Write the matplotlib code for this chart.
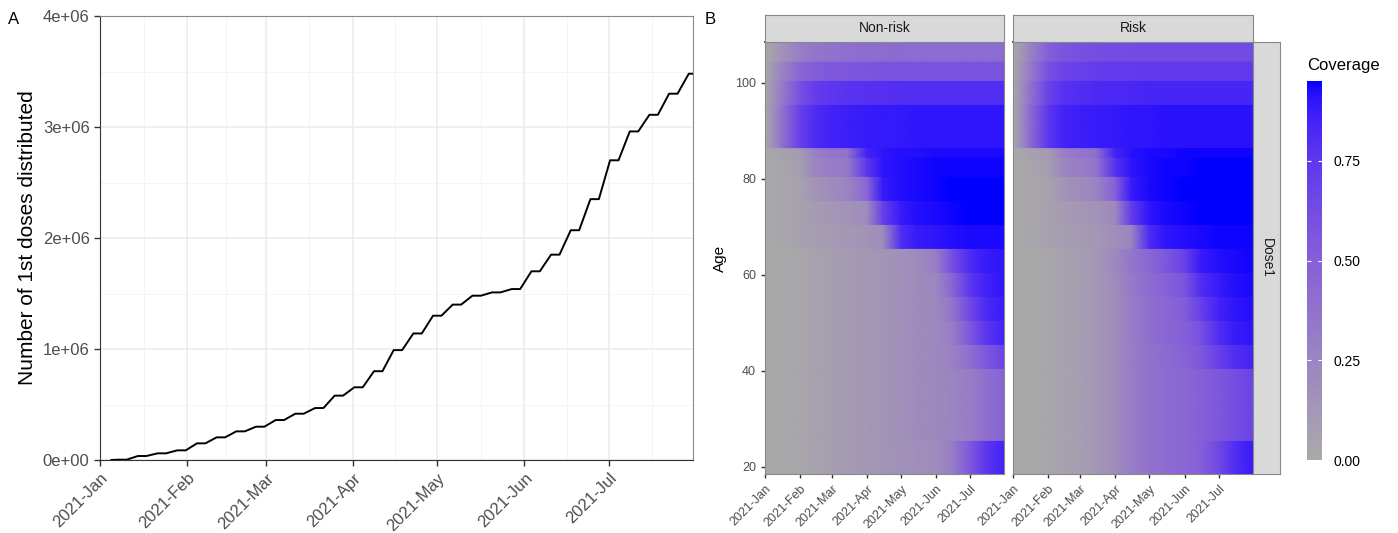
import numpy as np
import pandas as pd
import matplotlib
matplotlib.use('Agg')
import matplotlib.pyplot as plt
import matplotlib.dates as mdates
from matplotlib.ticker import MultipleLocator, FixedLocator, FuncFormatter
from matplotlib.colors import ListedColormap, Normalize
from matplotlib.cm import ScalarMappable

plt.rcParams['font.family'] = ['Liberation Sans', 'DejaVu Sans']

# ---- panel A: cumulative 1st doses (weekly plateaus) ----
dose_start = '2021-01-05'
plateau_dates = pd.date_range('2021-01-09', periods=30, freq='7D')
first_doses = [3e3, 36e3, 60e3, 87e3, 150e3, 204e3, 258e3, 300e3,
               360e3, 417e3, 468e3, 580e3, 655e3, 800e3, 990e3, 1.14e6,
               1.30e6, 1.40e6, 1.48e6, 1.51e6, 1.54e6, 1.70e6, 1.85e6, 2.07e6,
               2.35e6, 2.70e6, 2.96e6, 3.11e6, 3.30e6, 3.48e6]

# ---- panel B: coverage by age band and date ----
cov_dates = pd.to_datetime(['2021-01-01', '2021-01-15', '2021-02-01', '2021-02-15',
                            '2021-03-01', '2021-03-15', '2021-04-01', '2021-04-15',
                            '2021-05-01', '2021-05-15', '2021-06-01', '2021-06-15',
                            '2021-07-01', '2021-07-15', '2021-07-31'])
age_lo = [19, 26, 41, 46, 51, 56, 61, 66, 71, 76, 81, 85, 87, 96, 101, 105]
age_hi = [25, 40, 45, 50, 55, 60, 65, 70, 75, 80, 84, 86, 95, 100, 104, 108]

cov_nonrisk = [
    [0, 0, .02, .05, .07, .10, .12, .14, .16, .18, .20, .30, .55, .75, .85],
    [0, 0, .02, .05, .07, .10, .12, .14, .17, .20, .22, .25, .30, .40, .48],
    [0, 0, .02, .05, .07, .10, .12, .14, .17, .20, .22, .27, .40, .55, .68],
    [0, 0, .02, .05, .07, .10, .12, .14, .17, .20, .22, .30, .55, .75, .85],
    [0, 0, .02, .05, .07, .10, .12, .14, .17, .20, .23, .35, .65, .82, .88],
    [0, 0, .02, .05, .07, .10, .12, .14, .17, .20, .24, .45, .75, .85, .90],
    [0, 0, .02, .05, .07, .10, .12, .14, .17, .20, .30, .60, .82, .88, .90],
    [0, .02, .05, .08, .10, .12, .15, .20, .80, .88, .90, .92, .93, .93, .93],
    [0, .02, .05, .10, .13, .15, .20, .70, .88, .92, .93, .94, .95, .95, .95],
    [0, .02, .05, .15, .20, .25, .45, .88, .92, .93, .94, .95, .95, .95, .95],
    [0, .03, .08, .25, .30, .33, .75, .90, .92, .93, .94, .94, .94, .94, .94],
    [0, .05, .10, .30, .35, .38, .85, .90, .92, .92, .93, .93, .93, .93, .93],
    [0, .35, .70, .82, .85, .87, .88, .89, .89, .90, .90, .90, .90, .90, .90],
    [0, .30, .60, .72, .75, .77, .78, .79, .80, .80, .80, .80, .80, .80, .80],
    [0, .25, .45, .52, .55, .56, .57, .58, .58, .58, .58, .58, .58, .58, .58],
    [0, .15, .30, .35, .38, .40, .42, .42, .43, .43, .43, .43, .43, .43, .43],
]
cov_risk = [
    [0, 0, .02, .05, .08, .12, .20, .30, .38, .42, .45, .50, .65, .80, .88],
    [0, 0, .02, .05, .08, .12, .20, .30, .38, .42, .45, .50, .55, .62, .68],
    [0, 0, .02, .05, .08, .12, .20, .30, .38, .43, .48, .55, .70, .80, .85],
    [0, 0, .02, .05, .08, .12, .20, .30, .40, .45, .50, .60, .80, .88, .90],
    [0, 0, .02, .05, .08, .12, .20, .30, .40, .45, .52, .70, .85, .90, .92],
    [0, 0, .02, .05, .08, .12, .20, .32, .42, .48, .58, .80, .88, .92, .93],
    [0, 0, .02, .05, .08, .12, .22, .35, .45, .55, .70, .88, .92, .93, .94],
    [0, .02, .05, .08, .10, .12, .18, .25, .82, .90, .92, .93, .94, .94, .94],
    [0, .02, .05, .10, .13, .15, .22, .72, .90, .93, .94, .95, .95, .95, .95],
    [0, .02, .05, .15, .20, .25, .50, .88, .93, .94, .95, .95, .95, .95, .95],
    [0, .03, .08, .25, .30, .35, .78, .90, .93, .94, .94, .95, .95, .95, .95],
    [0, .05, .10, .30, .35, .40, .85, .91, .93, .93, .94, .94, .94, .94, .94],
    [0, .40, .75, .85, .87, .88, .89, .90, .90, .91, .91, .91, .91, .91, .91],
    [0, .35, .68, .78, .80, .82, .83, .83, .84, .84, .84, .84, .84, .84, .84],
    [0, .30, .60, .68, .70, .72, .73, .73, .74, .74, .74, .74, .74, .74, .74],
    [0, .25, .50, .58, .60, .62, .63, .63, .64, .64, .64, .64, .64, .64, .64],
]
cov_max = 0.95


# gray -> blue gradient interpolated in Lab space (like ggplot's scale_fill_gradient)
M_RGB2XYZ = np.array([[0.4124, 0.3576, 0.1805],
                      [0.2126, 0.7152, 0.0722],
                      [0.0193, 0.1192, 0.9505]])
WHITE = M_RGB2XYZ @ np.ones(3)


def to_lab(rgb):
    rgb = np.asarray(rgb, float)
    lin = np.where(rgb <= 0.04045, rgb / 12.92, ((rgb + 0.055) / 1.055) ** 2.4)
    t = (M_RGB2XYZ @ lin) / WHITE
    d = 6 / 29
    f = np.where(t > d ** 3, np.cbrt(t), t / (3 * d * d) + 4 / 29)
    return np.array([116 * f[1] - 16, 500 * (f[0] - f[1]), 200 * (f[1] - f[2])])


def from_lab(lab):
    L, a, b = lab
    fy = (L + 16) / 116
    f = np.array([fy + a / 500, fy, fy - b / 200])
    d = 6 / 29
    t = np.where(f > d, f ** 3, 3 * d * d * (f - 4 / 29))
    lin = np.linalg.solve(M_RGB2XYZ, t * WHITE)
    lin = np.clip(lin, 0, 1)
    rgb = np.where(lin <= 0.0031308, 12.92 * lin, 1.055 * lin ** (1 / 2.4) - 0.055)
    return np.clip(rgb, 0, 1)


lab_lo = to_lab([169 / 255] * 3)
lab_hi = to_lab([0, 0, 1])
cmap = ListedColormap([from_lab(lab_lo + s * (lab_hi - lab_lo)) for s in np.linspace(0, 1, 256)])
norm = Normalize(0, cov_max)

W, H = 1398, 533


def box(x0, y0, x1, y1):
    return [x0 / W, 1 - y1 / H, (x1 - x0) / W, (y1 - y0) / H]


fig = plt.figure(figsize=(W / 100, H / 100), dpi=100)

# ---------------- panel A ----------------
ax = fig.add_axes(box(100, 16, 693, 460))
line_x = [pd.Timestamp(dose_start)]
line_y = [0]
for d, v in zip(plateau_dates, first_doses):
    line_x += [d - pd.Timedelta(hours=36), d + pd.Timedelta(hours=36)]
    line_y += [v, v]
ax.plot(line_x, line_y, color='black', lw=1.4, zorder=3, solid_joinstyle='round')

x0, x1 = pd.Timestamp('2021-01-01'), pd.Timestamp('2021-07-31')
ax.set_xlim(x0, x1)
ax.set_ylim(0, 4e6)
months = pd.date_range('2021-01-01', '2021-08-01', freq='MS')
mnum = mdates.date2num(months)
ax.xaxis.set_major_locator(mdates.MonthLocator())
ax.xaxis.set_major_formatter(mdates.DateFormatter('%Y-%b'))
ax.xaxis.set_minor_locator(FixedLocator((mnum[:-1] + mnum[1:]) / 2))
ax.yaxis.set_major_locator(MultipleLocator(1e6))
ax.yaxis.set_minor_locator(MultipleLocator(5e5))
ax.yaxis.set_major_formatter(FuncFormatter(lambda v, p: f'{v:.0e}'))
ax.grid(which='major', color='#EBEBEB', lw=1.1)
ax.grid(which='minor', color='#F2F2F2', lw=0.6)
ax.set_axisbelow(True)
ax.tick_params(which='minor', length=0)
ax.tick_params(which='major', length=4, width=1, color='#333333',
               labelsize=12, labelcolor='#4D4D4D')
for lab in ax.get_xticklabels():
    lab.set_rotation(45)
    lab.set_ha('right')
    lab.set_va('top')
    lab.set_rotation_mode('anchor')
for side in ['left', 'bottom']:
    ax.spines[side].set_color('#333333')
for side in ['top', 'right']:
    ax.spines[side].set_color('#888888')
ax.set_ylabel('Number of 1st doses distributed', fontsize=15)
ax.yaxis.set_label_coords(-0.106, 0.5)

# ---------------- panel B ----------------
xd = mdates.date2num(cov_dates)
panels = [(765, 1004, cov_nonrisk, 'Non-risk'), (1013, 1253, cov_risk, 'Risk')]
for i, (px0, px1, cov, name) in enumerate(panels):
    axh = fig.add_axes(box(px0, 42, px1, 474))
    for lo, hi, row in zip(age_lo, age_hi, cov):
        X, Y = np.meshgrid(xd, [lo - 0.5, hi + 0.5])
        C = np.vstack([row, row])
        axh.pcolormesh(X, Y, C, shading='gouraud', cmap=cmap, norm=norm)
    axh.set_xlim(mdates.date2num(x0), mdates.date2num(x1))
    axh.set_ylim(18.5, 108.5)
    axh.xaxis.set_major_locator(mdates.MonthLocator())
    axh.xaxis.set_major_formatter(mdates.DateFormatter('%Y-%b'))
    axh.set_yticks([20, 40, 60, 80, 100])
    axh.tick_params(length=3, width=1, color='#333333', labelsize=9, labelcolor='#4D4D4D')
    for lab in axh.get_xticklabels():
        lab.set_rotation(45)
        lab.set_ha('right')
        lab.set_va('top')
        lab.set_rotation_mode('anchor')
    for side in ['left', 'right', 'bottom']:
        axh.spines[side].set_color('#888888')
    axh.spines['top'].set_color('#333333')
    axh.spines['top'].set_linewidth(1.3)
    if i == 0:
        axh.set_ylabel('Age', fontsize=11)
        axh.yaxis.set_label_coords(-0.159, 0.5)
    else:
        axh.tick_params(axis='y', left=False, labelleft=False)

    st = fig.add_axes(box(px0, 15, px1, 42))
    st.set_facecolor('#D9D9D9')
    st.set_xticks([])
    st.set_yticks([])
    for s in st.spines.values():
        s.set_color('#888888')
    st.text(0.5, 0.5, name, ha='center', va='center', fontsize=10, color='#1A1A1A',
            transform=st.transAxes)

st = fig.add_axes(box(1253, 42, 1280, 474))
st.set_facecolor('#D9D9D9')
st.set_xticks([])
st.set_yticks([])
for s in st.spines.values():
    s.set_color('#888888')
st.text(0.5, 0.5, 'Dose1', ha='center', va='center', rotation=-90, fontsize=10,
        color='#1A1A1A', transform=st.transAxes)

# colourbar
cax = fig.add_axes(box(1307, 81, 1322, 460))
cb = fig.colorbar(ScalarMappable(norm=norm, cmap=cmap), cax=cax, ticks=[0, 0.25, 0.5, 0.75])
cb.outline.set_visible(False)
cax.yaxis.set_ticks_position('both')
cax.yaxis.set_major_formatter(FuncFormatter(lambda v, p: f'{v:.2f}'))
cax.tick_params(direction='in', color='white', length=3, width=0.8,
                labelsize=10, labelcolor='black', labelright=True, labelleft=False, pad=8)
fig.text(1307 / W, 1 - 66 / H, 'Coverage', fontsize=12, ha='left', va='center')

fig.text(8 / W, 1 - 20 / H, 'A', fontsize=12, va='center')
fig.text(705 / W, 1 - 20 / H, 'B', fontsize=12, va='center')

fig.savefig('out.png', dpi=100)
